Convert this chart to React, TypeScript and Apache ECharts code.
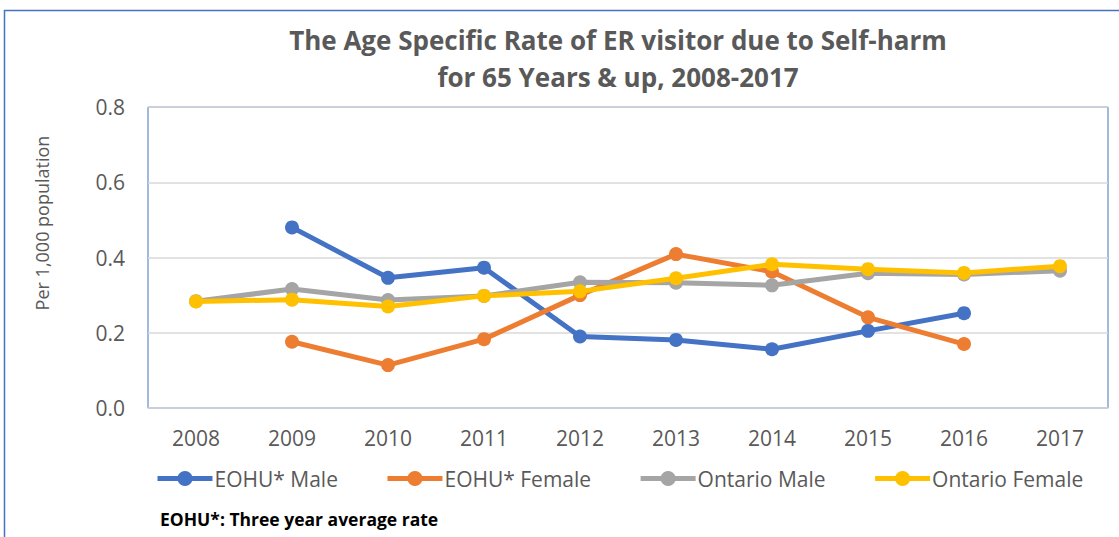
import React, { useEffect, useRef } from "react";
import * as echarts from "echarts";

const years = ["2008", "2009", "2010", "2011", "2012", "2013", "2014", "2015", "2016", "2017"];
const eohuMale = [null, 0.48, 0.346, 0.373, 0.19, 0.181, 0.156, 0.205, 0.252, null];
const eohuFemale = [null, 0.176, 0.114, 0.183, 0.3, 0.409, 0.362, 0.241, 0.17, null];
const ontarioMale = [0.284, 0.316, 0.287, 0.298, 0.334, 0.333, 0.326, 0.358, 0.355, 0.365];
const ontarioFemale = [0.283, 0.288, 0.27, 0.298, 0.31, 0.345, 0.382, 0.369, 0.359, 0.377];
const seriesNames = ["EOHU* Male", "EOHU* Female", "Ontario Male", "Ontario Female"];
const seriesColors = ["#4472C4", "#ED7D31", "#A5A5A5", "#FFC000"];
const titleLines = ["The Age Specific Rate of ER visitor due to Self-harm", "for 65 Years & up, 2008-2017"];
const yAxisName = "Per 1,000 population";
const footnote = "EOHU*: Three year average rate";

const FONT = "'Open Sans', sans-serif";

export default function App() {
  const ref = useRef<HTMLDivElement>(null);
  useEffect(() => {
    if (!ref.current) return;
    const chart = echarts.init(ref.current, null, { renderer: "svg" });
    const allData = [eohuMale, eohuFemale, ontarioMale, ontarioFemale];
    chart.setOption({
      animation: false,
      backgroundColor: "#ffffff",
      textStyle: { fontFamily: FONT },
      title: {
        text: titleLines.join("\n"),
        left: 618,
        textAlign: "center",
        top: 21,
        padding: 0,
        textStyle: {
          fontFamily: FONT,
          fontSize: 26,
          fontWeight: "bold",
          color: "#595959",
          lineHeight: 37,
        },
      },
      grid: {
        left: 148,
        top: 107,
        right: 11,
        bottom: 129,
        show: true,
        borderColor: "#4472C4",
        borderWidth: 1,
        backgroundColor: "transparent",
      },
      legend: {
        left: 155,
        top: 468,
        padding: 0,
        itemWidth: 55,
        itemHeight: 19,
        itemGap: 47,
        lineStyle: { width: 5 },
        textStyle: { fontFamily: FONT, fontSize: 21, color: "#595959", padding: [0, 0, 0, -3] },
        data: seriesNames,
      },
      xAxis: {
        type: "category",
        data: years,
        boundaryGap: true,
        axisLine: { show: true, lineStyle: { color: "#C9CFDB", width: 1.5 } },
        axisTick: { show: false },
        axisLabel: { fontFamily: FONT, fontSize: 21, color: "#595959", margin: 19 },
      },
      yAxis: {
        type: "value",
        min: 0,
        max: 0.8,
        interval: 0.2,
        axisLine: { show: false },
        axisTick: { show: false },
        axisLabel: {
          fontFamily: FONT,
          fontSize: 21,
          color: "#595959",
          margin: 23,
          formatter: (v: number) => v.toFixed(1),
        },
        splitLine: { lineStyle: { color: "#D9D9D9", width: 1.5 } },
      },
      series: seriesNames.map((name, i) => ({
        name,
        type: "line",
        data: allData[i],
        symbol: "circle",
        symbolSize: 14,
        connectNulls: false,
        color: seriesColors[i],
        lineStyle: { width: 5, color: seriesColors[i] },
        itemStyle: { color: seriesColors[i] },
        z: 2 + i,
      })),
      graphic: [
        {
          type: "rect",
          shape: { x: 4.5, y: 10.5, width: 1300, height: 700 },
          style: { fill: "none", stroke: "#4472C4", lineWidth: 1.5 },
          silent: true,
        },
        {
          type: "text",
          x: 42,
          y: 223,
          rotation: Math.PI / 2,
          style: {
            text: yAxisName,
            fontFamily: FONT,
            fontSize: 18,
            fill: "#595959",
            textAlign: "center",
            textVerticalAlign: "middle",
          },
        },
        {
          type: "text",
          left: 160,
          top: 510,
          style: {
            text: footnote,
            fontFamily: FONT,
            fontSize: 17.5,
            fontWeight: "bold",
            fill: "#000000",
          },
        },
      ],
    });
    return () => chart.dispose();
  }, []);
  return (
    <div
      ref={ref}
      style={{ position: "fixed", left: 0, top: 0, width: 1119, height: 537 }}
    />
  );
}
